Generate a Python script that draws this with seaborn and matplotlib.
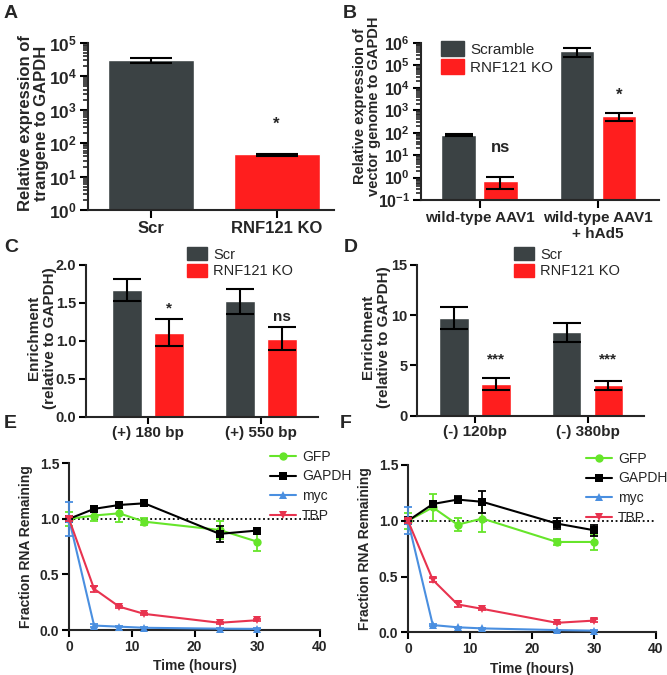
import numpy as np
import pandas as pd
import matplotlib
matplotlib.use("Agg")
import matplotlib.pyplot as plt
import matplotlib.patches as mpatches
from matplotlib.ticker import LogLocator, FuncFormatter, NullFormatter
import seaborn as sns

# ---- data ----
# A: transgene expression (log)
a_groups = ["Scr", "RNF121 KO"]
a_vals = [3.1e4, 46]
a_lo = [2.5e4, 42]
a_hi = [3.6e4, 49]

# B: vector genome (log)
b_conds = ["wild-type AAV1", "wild-type AAV1\n+ hAd5"]
b_scr = [77, 4.4e5]
b_scr_lo = [68, 2.3e5]
b_scr_hi = [85, 5.9e5]
b_ko = [0.72, 580]
b_ko_lo = [0.30, 340]
b_ko_hi = [1.07, 740]

# C: enrichment, (+) strand
c_targets = ["(+) 180 bp", "(+) 550 bp"]
c_scr = [1.67, 1.52]
c_scr_err = [0.15, 0.165]
c_ko = [1.11, 1.03]
c_ko_err = [0.18, 0.15]

# D: enrichment, (-) strand
d_targets = ["(-) 120bp", "(-) 380bp"]
d_scr = [9.75, 8.3]
d_scr_err = [1.1, 0.95]
d_ko = [3.15, 3.02]
d_ko_err = [0.62, 0.47]

# E/F: RNA decay time course
time_h = [0, 4, 8, 12, 24, 30]
e_gfp = [1.0, 1.03, 1.05, 0.975, 0.90, 0.795]
e_gfp_err = [0.06, 0.05, 0.08, 0.03, 0.08, 0.08]
e_gapdh = [1.0, 1.09, 1.125, 1.14, 0.865, 0.895]
e_gapdh_err = [0.02, 0.02, 0.02, 0.01, 0.07, 0.02]
e_myc = [1.0, 0.04, 0.03, 0.02, 0.012, 0.01]
e_myc_err = [0.15, 0.01, 0.005, 0.005, 0.005, 0.005]
e_tbp = [1.0, 0.37, 0.21, 0.145, 0.065, 0.088]
e_tbp_err = [0.02, 0.03, 0.01, 0.01, 0.01, 0.01]

f_gfp = [1.0, 1.12, 0.965, 1.02, 0.81, 0.81]
f_gfp_err = [0.07, 0.12, 0.06, 0.12, 0.03, 0.07]
f_gapdh = [1.0, 1.15, 1.19, 1.17, 0.975, 0.915]
f_gapdh_err = [0.03, 0.02, 0.03, 0.10, 0.05, 0.05]
f_myc = [1.0, 0.065, 0.045, 0.035, 0.02, 0.015]
f_myc_err = [0.12, 0.01, 0.005, 0.005, 0.005, 0.005]
f_tbp = [1.0, 0.47, 0.25, 0.21, 0.085, 0.105]
f_tbp_err = [0.02, 0.02, 0.02, 0.01, 0.01, 0.01]

GRAY = "#3b4244"
RED = "#ff1e1e"
LINE_COLORS = {"GFP": "#66e52a", "GAPDH": "#000000", "myc": "#4a8fe0", "TBP": "#e8334f"}
MARKERS = {"GFP": "o", "GAPDH": "s", "myc": "^", "TBP": "v"}

sns.set_theme(style="ticks")
plt.rcParams["font.family"] = ["Liberation Sans", "DejaVu Sans"]
plt.rcParams["mathtext.fontset"] = "custom"
plt.rcParams["mathtext.rm"] = "Liberation Sans:bold"
plt.rcParams["mathtext.bf"] = "Liberation Sans:bold"
plt.rcParams["axes.linewidth"] = 1.5

W, H = 667, 675
fig = plt.figure(figsize=(W / 100, H / 100), dpi=100)


def rect(x0, y0, x1, y1):
    return [x0 / W, 1 - y1 / H, (x1 - x0) / W, (y1 - y0) / H]


def style_axes(ax, xsize, ysize, tlen=5):
    sns.despine(ax=ax)
    ax.tick_params(axis="both", which="major", direction="out", length=tlen, width=1.5,
                   color="black", pad=2)
    ax.tick_params(axis="x", labelsize=xsize)
    ax.tick_params(axis="y", labelsize=ysize)
    for lab in ax.get_xticklabels() + ax.get_yticklabels():
        lab.set_fontweight("bold")


def log_axis(ax):
    ax.set_yscale("log")
    ax.yaxis.set_major_locator(LogLocator(base=10, numticks=20))
    ax.yaxis.set_minor_locator(LogLocator(base=10, subs=np.arange(2, 10), numticks=20))
    ax.yaxis.set_minor_formatter(NullFormatter())
    ax.yaxis.set_major_formatter(FuncFormatter(lambda v, p: r"$\mathbf{10^{%d}}$" % round(np.log10(v))))
    ax.tick_params(axis="y", which="minor", direction="out", length=3.5, width=1.2)


def bar_errors(ax, lo, hi, capsize):
    # patches in seaborn order: hue level by hue level
    for p, l, h in zip(ax.patches, lo, hi):
        xc = p.get_x() + p.get_width() / 2
        v = p.get_height()
        ax.errorbar(xc, v, yerr=[[v - l], [h - v]], fmt="none", ecolor="black",
                    elinewidth=1.5, capsize=capsize, capthick=1.5, zorder=5)


def sym(vals, errs):
    return [v - e for v, e in zip(vals, errs)], [v + e for v, e in zip(vals, errs)]


# ---------------- A ----------------
axA = fig.add_axes(rect(88, 43, 334, 210))
dfa = pd.DataFrame({"group": a_groups, "value": a_vals})
sns.barplot(data=dfa, x="group", y="value", hue="group", palette=[GRAY, RED], saturation=1,
            width=0.685, errorbar=None, legend=False, ax=axA)
log_axis(axA)
axA.set_ylim(1, 1e5)
axA.set_xlim(-0.502, 1.458)
bar_errors(axA, a_lo, a_hi, 15)
axA.text(1, 10 ** 2.35, "*", ha="center", va="bottom", fontsize=12, fontweight="bold")
axA.set_xlabel("")
axA.set_ylabel("Relative expression of\ntrangene to GAPDH", fontsize=12, fontweight="bold",
               linespacing=1.1)
axA.yaxis.set_label_coords(-0.159, 0.52)
style_axes(axA, 12, 12.5, tlen=6)

# ---------------- B ----------------
axB = fig.add_axes(rect(421, 43, 659, 200))
dfb = pd.DataFrame({"cond": b_conds * 2,
                    "group": ["Scramble"] * 2 + ["RNF121 KO"] * 2,
                    "value": b_scr + b_ko})
sns.barplot(data=dfb, x="cond", y="value", hue="group", palette=[GRAY, RED], saturation=1,
            width=0.708, gap=0.18, errorbar=None, legend=False, ax=axB)
log_axis(axB)
axB.set_ylim(0.1, 1e6)
axB.set_xlim(-0.494, 1.515)
bar_errors(axB, b_scr_lo + b_ko_lo, b_scr_hi + b_ko_hi, 10)
axB.text(0.177, 23, "ns", ha="center", va="center", fontsize=12, fontweight="bold")
axB.text(1.177, 10 ** 3.35, "*", ha="center", va="bottom", fontsize=12, fontweight="bold")
axB.set_xlabel("")
axB.set_ylabel("Relative expression of\nvector genome to GAPDH", fontsize=10.5, fontweight="bold",
               linespacing=1.0)
axB.yaxis.set_label_coords(-0.166, 0.6)
style_axes(axB, 11, 11.5, tlen=6)
axB.legend(handles=[mpatches.Patch(color=GRAY, label="Scramble"),
                    mpatches.Patch(color=RED, label="RNF121 KO")],
           loc="upper left", bbox_to_anchor=(435 / W, 1 - 35 / H), bbox_transform=fig.transFigure,
           frameon=False, fontsize=11, borderaxespad=0, handlelength=1.5, handleheight=1.15,
           labelspacing=0.15, handletextpad=0.4)


# ---------------- C / D ----------------
def enrich_panel(box, targets, scr, scr_err, ko, ko_err, ymax, yticks, yfmt, xlim, leg_xy,
                 marks, mark_y, label_x):
    ax = fig.add_axes(rect(*box))
    df = pd.DataFrame({"target": targets * 2,
                       "group": ["Scr"] * 2 + ["RNF121 KO"] * 2,
                       "value": scr + ko})
    sns.barplot(data=df, x="target", y="value", hue="group", palette=[GRAY, RED], saturation=1,
                width=0.745, gap=0.29, errorbar=None, legend=False, ax=ax)
    ax.set_ylim(0, ymax)
    ax.set_yticks(yticks)
    ax.yaxis.set_major_formatter(FuncFormatter(lambda v, p: yfmt % v))
    ax.set_xlim(*xlim)
    lo1, hi1 = sym(scr, scr_err)
    lo2, hi2 = sym(ko, ko_err)
    bar_errors(ax, lo1 + lo2, hi1 + hi2, 10)
    for i, (m, y) in enumerate(zip(marks, mark_y)):
        ax.text(i + 0.186, y, m, ha="center", va="bottom", fontsize=11, fontweight="bold")
    ax.set_xlabel("")
    ax.set_ylabel("Enrichment\n(relative to GAPDH)", fontsize=11, fontweight="bold")
    ax.yaxis.set_label_coords(label_x, 0.52)
    style_axes(ax, 11, 10.5)
    ax.legend(handles=[mpatches.Patch(color=GRAY, label="Scr"),
                       mpatches.Patch(color=RED, label="RNF121 KO")],
              loc="upper left", bbox_to_anchor=(leg_xy[0] / W, 1 - leg_xy[1] / H),
              bbox_transform=fig.transFigure, frameon=False, fontsize=10.5, borderaxespad=0,
              handlelength=1.35, handleheight=1.05, labelspacing=0.15, handletextpad=0.45)
    return ax


axC = enrich_panel((86, 265, 318, 416.7), c_targets, c_scr, c_scr_err, c_ko, c_ko_err,
                   2.0, [0, 0.5, 1.0, 1.5, 2.0], "%.1f", (-0.549, 1.504), (181, 241),
                   ["*", "ns"], [1.33, 1.22], -0.125)
axD = enrich_panel((417, 265, 644, 415.7), d_targets, d_scr, d_scr_err, d_ko, d_ko_err,
                   15, [0, 5, 10, 15], "%d", (-0.516, 1.502), (508, 241),
                   ["***", "***"], [4.9, 4.9], -0.115)


# ---------------- E / F ----------------
def decay_panel(box, series, leg_xy):
    ax = fig.add_axes(rect(*box))
    ax.axhline(1.0, ls=(0, (1, 1.5)), color="black", lw=1.3, zorder=1)
    for name, (vals, errs) in series.items():
        df = pd.DataFrame({"time": time_h, "value": vals})
        sns.lineplot(data=df, x="time", y="value", color=LINE_COLORS[name], marker=MARKERS[name],
                     markersize=6, markeredgewidth=0, lw=1.5, label=name, ax=ax, clip_on=False,
                     zorder=3)
        ax.errorbar(time_h, vals, yerr=errs, fmt="none", ecolor=LINE_COLORS[name],
                    elinewidth=1.3, capsize=3, capthick=1.3, zorder=3, clip_on=False)
    ax.set_xlim(0, 40)
    ax.set_ylim(0, 1.5)
    ax.set_xticks([0, 10, 20, 30, 40])
    ax.set_yticks([0, 0.5, 1.0, 1.5])
    ax.yaxis.set_major_formatter(FuncFormatter(lambda v, p: "%.1f" % v))
    ax.set_xlabel("Time (hours)", fontsize=10, fontweight="bold")
    ax.set_ylabel("Fraction RNA Remaining", fontsize=10, fontweight="bold")
    ax.yaxis.set_label_coords(-0.144, 0.5)
    style_axes(ax, 10, 10)
    ax.legend(loc="upper left", bbox_to_anchor=(leg_xy[0] / W, 1 - leg_xy[1] / H),
              bbox_transform=fig.transFigure, frameon=False, fontsize=10, borderaxespad=0,
              handlelength=1.9, labelspacing=0.42, handletextpad=0.45)
    return ax


axE = decay_panel((69, 463.3, 320, 630),
                  {"GFP": (e_gfp, e_gfp_err), "GAPDH": (e_gapdh, e_gapdh_err),
                   "myc": (e_myc, e_myc_err), "TBP": (e_tbp, e_tbp_err)}, (264, 444))
axF = decay_panel((408, 465, 656, 632.3),
                  {"GFP": (f_gfp, f_gfp_err), "GAPDH": (f_gapdh, f_gapdh_err),
                   "myc": (f_myc, f_myc_err), "TBP": (f_tbp, f_tbp_err)}, (580, 446))

# panel letters
for letter, (x, y) in {"A": (4, 18), "B": (343, 18), "C": (4, 252), "D": (344, 252),
                       "E": (4, 428), "F": (340, 428)}.items():
    fig.text(x / W, 1 - y / H, letter, fontsize=14, fontweight="bold", va="baseline")

fig.savefig("out.png", dpi=100)
